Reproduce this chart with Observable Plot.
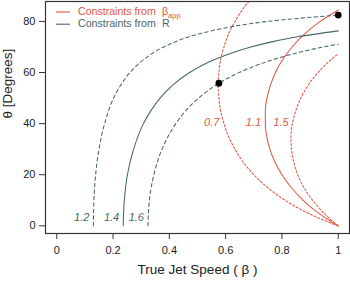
<!DOCTYPE html>
<html><head><meta charset="utf-8">
<script src="https://cdn.jsdelivr.net/npm/d3@7"></script>
<script src="https://cdn.jsdelivr.net/npm/@observablehq/plot@0.6"></script>
<style>body{margin:0;background:#fff} svg{display:block}</style>
</head><body><div id="chart"></div>
<script>
// Constraints from beta_app (red)
const redTheta07 = [0, 2, 5, 10, 15, 20, 25, 30, 35, 40, 45, 50, 55, 60, 65, 70, 75, 80, 85, 90];
const redBeta07  = [1, 0.953, 0.892, 0.811, 0.749, 0.700, 0.662, 0.633, 0.610, 0.594, 0.582, 0.576, 0.573, 0.576, 0.582, 0.594, 0.610, 0.633, 0.662, 0.700];
const redTheta11 = [0, 2, 5, 10, 15, 20, 25, 30, 35, 40, 45, 50, 55, 60, 65, 70, 75, 80, 84.5];
const redBeta11  = [1, 0.970, 0.930, 0.875, 0.833, 0.800, 0.775, 0.757, 0.746, 0.741, 0.741, 0.747, 0.759, 0.777, 0.802, 0.836, 0.880, 0.936, 1];
const redTheta15 = [0, 2, 5, 10, 15, 20, 25, 30, 35, 40, 45, 50, 55, 60, 65, 67.4];
const redBeta15  = [1, 0.978, 0.949, 0.909, 0.878, 0.856, 0.842, 0.834, 0.832, 0.837, 0.849, 0.867, 0.893, 0.928, 0.974, 1];
// Constraints from R (teal)
const tealTheta12 = [0, 10, 20, 30, 40, 50, 55, 60, 65, 70, 75, 78, 80, 82.5];
const tealBeta12  = [0.130, 0.132, 0.138, 0.150, 0.170, 0.202, 0.227, 0.260, 0.308, 0.380, 0.502, 0.625, 0.749, 1];
const tealTheta14 = [0, 10, 20, 30, 40, 45, 50, 55, 60, 65, 70, 72, 74, 76.3];
const tealBeta14  = [0.236, 0.240, 0.251, 0.273, 0.308, 0.334, 0.367, 0.411, 0.472, 0.559, 0.690, 0.764, 0.856, 1];
const tealTheta16 = [0, 10, 20, 30, 40, 45, 50, 55, 60, 63, 66, 68, 70, 71.1];
const tealBeta16  = [0.324, 0.329, 0.345, 0.374, 0.423, 0.458, 0.504, 0.565, 0.648, 0.714, 0.797, 0.865, 0.947, 1];
// highlighted points
const dotBeta  = [1, 0.576];
const dotTheta = [82.5, 55.8];
// curve labels
const redLabels  = ["0.7", "1.1", "1.5"];
const redLabelBeta = [0.592, 0.740, 0.838];
const redLabelTheta = [40.5, 40.5, 40.5];
const tealLabels = ["1.2", "1.4", "1.6"];
const tealLabelBeta = [0.130, 0.236, 0.324];
const tealLabelTheta = [0, 0, 0];
const xTicks = [0, 0.2, 0.4, 0.6, 0.8, 1];
const yTicks = [0, 20, 40, 60, 80];

const RED = "#e5553f", TEAL = "#456767";
const toRows = (th, b) => th.map((t, i) => ({theta: t, beta: b[i]}));

const lineOpts = (stroke, dash) => ({x: "beta", y: "theta", stroke, strokeWidth: 1.05, strokeDasharray: dash, curve: "monotone-y", clip: true});

const plot = Plot.plot({
  width: 350, height: 281,
  marginLeft: 45, marginRight: 1, marginTop: 1, marginBottom: 48,
  x: {domain: [-0.04, 1.04]},
  y: {domain: [-3, 87.8]},
  style: {fontFamily: "'Liberation Sans', Arial, sans-serif", fontSize: "11px", color: "#222", background: "#fff"},
  marks: [
    Plot.line(toRows(redTheta07, redBeta07), lineOpts(RED, "2,2")),
    Plot.line(toRows(redTheta11, redBeta11), lineOpts(RED, null)),
    Plot.line(toRows(redTheta15, redBeta15), lineOpts(RED, "2,2")),
    Plot.line(toRows(tealTheta12, tealBeta12), lineOpts(TEAL, "3.5,3")),
    Plot.line(toRows(tealTheta14, tealBeta14), lineOpts(TEAL, null)),
    Plot.line(toRows(tealTheta16, tealBeta16), lineOpts(TEAL, "3.5,3")),
    Plot.dot(dotBeta.map((b, i) => ({beta: b, theta: dotTheta[i]})), {x: "beta", y: "theta", r: 3.4, fill: "#000"}),
    Plot.text(redLabels.map((t, i) => ({t, beta: redLabelBeta[i], theta: redLabelTheta[i]})),
      {x: "beta", y: "theta", text: "t", fill: RED, textAnchor: "end", dx: -4, fontStyle: "italic", fontSize: 11}),
    Plot.text(tealLabels.map((t, i) => ({t, beta: tealLabelBeta[i], theta: tealLabelTheta[i]})),
      {x: "beta", y: "theta", text: "t", fill: TEAL, textAnchor: "end", dx: -4, dy: -8, fontStyle: "italic", fontSize: 11}),
    Plot.frame({stroke: "#333", strokeWidth: 1.2}),
    Plot.axisX({ticks: xTicks, tickFormat: d => String(d), tickSize: 6, tickPadding: 7, label: null, stroke: "#333"}),
    Plot.axisY({ticks: yTicks, tickFormat: d => String(d), tickSize: 6, tickPadding: 4, label: null, stroke: "#333"}),
    Plot.text(["True Jet Speed ( β )"], {text: d => d, frameAnchor: "bottom", dy: 40, fontSize: 13.5, fill: "#222"}),
    Plot.text(["θ [Degrees]"], {text: d => d, frameAnchor: "left", dx: -38, dy: 1, rotate: -90, fontSize: 13.5, fill: "#222"})
  ]
});

// legend inside the plot (top-left)
const svg = d3.select(plot);
const leg = svg.append("g")
  .attr("font-family", "'Liberation Sans', Arial, sans-serif")
  .attr("font-size", 10.6)
  .attr("text-anchor", "start");
const legendItems = [
  {color: RED, label: "Constraints from", sym: "β", sub: "app"},
  {color: TEAL, label: "Constraints from", sym: "R", sub: null}
];
legendItems.forEach((it, i) => {
  const yl = 12 + i * 12.2;
  leg.append("line").attr("x1", 56).attr("x2", 70).attr("y1", yl).attr("y2", yl)
    .attr("stroke", it.color).attr("stroke-width", 1.1);
  leg.append("text").attr("x", 78).attr("y", yl + 2.5).attr("fill", it.color).text(it.label);
  const t = leg.append("text").attr("x", 162).attr("y", yl + 2.5).attr("fill", it.color);
  t.append("tspan").text(it.sym);
  if (it.sub) t.append("tspan").attr("dy", 3).attr("font-size", 7.5).text(it.sub);
});

document.getElementById("chart").appendChild(plot);
</script>
</body></html>
